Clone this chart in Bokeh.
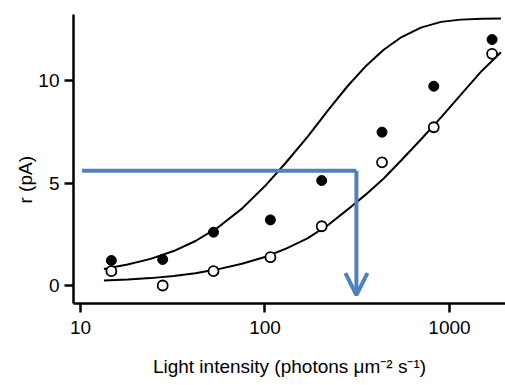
from bokeh.plotting import figure
from bokeh.models import FixedTicker, Range1d, Arrow, OpenHead, Title
from bokeh.embed import file_html
from bokeh.resources import INLINE

# ---- data ----
intensity = [14.7, 27.9, 52.6, 107, 203, 431, 822, 1702]
r_filled = [1.22, 1.27, 2.6, 3.2, 5.12, 7.48, 9.72, 12.0]
r_open = [0.70, 0.0, 0.70, 1.38, 2.89, 6.01, 7.72, 11.3]

curve_x = [13.4, 18, 24, 32, 42, 56, 75, 100, 130, 170, 220, 280, 350, 440, 550, 700, 900, 1150, 1500, 1900]
upper_y = [0.81, 1.02, 1.30, 1.68, 2.17, 2.85, 3.75, 4.85, 6.00, 7.25, 8.55, 9.72, 10.68, 11.50, 12.12,
           12.58, 12.86, 12.97, 13.01, 13.02]
lower_y = [0.24, 0.29, 0.36, 0.46, 0.60, 0.80, 1.06, 1.39, 1.80, 2.30, 2.95, 3.70, 4.42, 5.22, 6.12,
           7.12, 8.20, 9.30, 10.48, 11.38]

arrow_x = [10.2, 313, 313]
arrow_y = [5.6, 5.6, -0.47]

x_ticks = [10, 100, 1000]
y_ticks = [0, 5, 10]

BLUE = "#4F81BD"
FONT = "Liberation Sans"

p = figure(width=505, height=385, x_axis_type="log",
           x_range=Range1d(9.165, 2012), y_range=Range1d(-0.878, 13.22),
           output_backend="svg", toolbar_location=None,
           min_border_left=73, min_border_right=0, min_border_top=14, min_border_bottom=82)
p.outline_line_color = None
p.xgrid.visible = False
p.ygrid.visible = False
p.background_fill_color = "white"
p.border_fill_color = "white"

# fitted curves
p.line(curve_x, upper_y, line_color="black", line_width=2)
p.line(curve_x, lower_y, line_color="black", line_width=2)

# points
p.scatter(intensity, r_filled, size=10, fill_color="black", line_color="black")
p.scatter(intensity, r_open, size=10, fill_color="white", line_color="black", line_width=1.8)

# blue arrow
p.line(arrow_x[:2] + [arrow_x[2]], arrow_y[:2] + [arrow_y[1]], line_color=BLUE, line_width=4,
       line_join="miter")
p.add_layout(Arrow(x_start=arrow_x[1], y_start=arrow_y[1], x_end=arrow_x[2], y_end=arrow_y[2],
                   line_color=BLUE, line_width=4,
                   end=OpenHead(size=22, line_color=BLUE, line_width=4)))

# axes
for ax in (p.xaxis[0], p.yaxis[0]):
    ax.axis_line_width = 2.5
    ax.axis_line_color = "black"
    ax.major_tick_line_width = 2.5
    ax.major_tick_line_color = "black"
    ax.major_tick_in = 0
    ax.major_tick_out = 9
    ax.minor_tick_line_color = None
    ax.major_label_text_font = FONT
    ax.major_label_text_font_size = "19px"
    ax.major_label_text_color = "black"

p.xaxis.ticker = FixedTicker(ticks=x_ticks, minor_ticks=[])
p.yaxis.ticker = FixedTicker(ticks=y_ticks, minor_ticks=[])
p.xaxis.major_label_overrides = {t: str(t) for t in x_ticks}
p.xaxis.major_label_standoff = 8
p.yaxis.major_label_standoff = 5

p.xaxis.axis_label = "Light intensity (photons \u03bcm\u207b\u00b2 s\u207b\u00b9)"
p.xaxis.axis_label_text_font = FONT
p.xaxis.axis_label_text_font_size = "19px"
p.xaxis.axis_label_text_font_style = "normal"
p.xaxis.axis_label_text_color = "black"
p.xaxis.axis_label_standoff = 19

# y axis title, placed like the reference (below the frame's centre)
p.add_layout(Title(text="r (pA)", align="left", offset=100, standoff=0,
                   text_font=FONT, text_font_size="19px", text_font_style="normal",
                   text_color="black"), "left")

open("out.html", "w").write(file_html(p, INLINE))
